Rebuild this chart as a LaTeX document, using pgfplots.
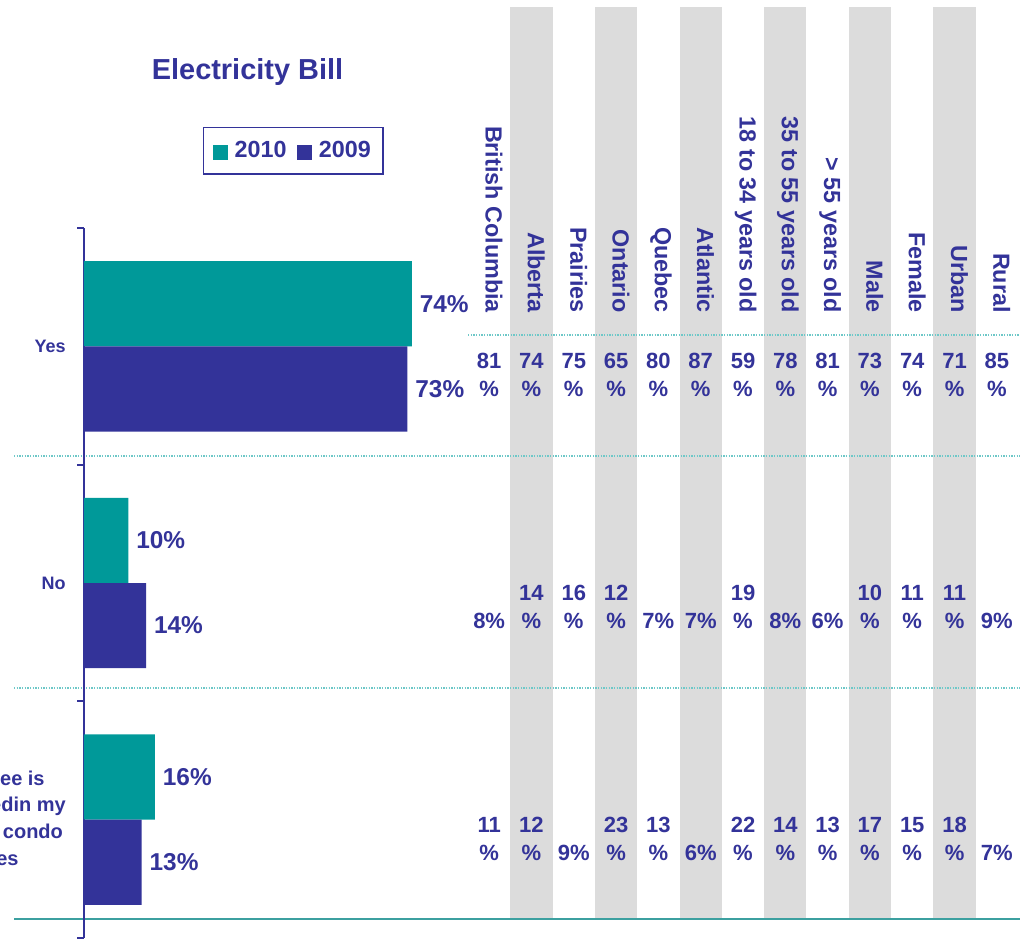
\documentclass[border=0pt]{standalone}
\usepackage{pgfplots}
\pgfplotsset{compat=1.18}
\usepackage{pgfplotstable}
\usepackage{fontspec}
\setmainfont{Liberation Sans}
\definecolor{navy}{RGB}{51,51,153}
\definecolor{tealc}{RGB}{0,153,153}
\definecolor{stripe}{RGB}{220,220,220}
\definecolor{sepc}{RGB}{110,200,200}
\definecolor{linec}{RGB}{60,160,160}
\pgfplotsset{/pgf/number format/assume math mode=true}
\tikzset{hdr/.style={rotate=-90, anchor=east, text=navy, inner sep=0pt, text height=0.73em, text depth=0.21em, font=\fontsize{17.5}{20}\selectfont\bfseries}}

\pgfplotstableread{
col yes no fee
0 81 8 11
1 74 14 12
2 75 16 9
3 65 12 23
4 80 7 13
5 87 7 6
6 59 19 22
7 78 8 14
8 81 6 13
9 73 10 17
10 74 11 15
11 71 11 18
12 85 9 7
}\regtable

\begin{document}
\begin{tikzpicture}[x=0.75pt,y=0.75pt]
\useasboundingbox (0,0) rectangle (1020,940);
\clip (0,0) rectangle (1020,940);
% ---------------- table axis ----------------
\begin{axis}[at={(351pt,0pt)}, anchor=south west, width=412.5pt, height=705pt, scale only axis,
  xmin=-0.5, xmax=12.5, ymin=0, ymax=940, hide axis, clip=false,
  point meta=explicit,
  nodes near coords={\pgfmathprintnumber{\pgfplotspointmeta}\hspace{0pt}\%},
  every node near coord/.append style={text width=30pt, align=center, inner sep=0pt, anchor=south, text=navy, font=\fontsize{16.5}{21}\selectfont\bfseries},
]
\fill[stripe] (axis cs:0.5,21) rectangle (axis cs:1.5,933);
\fill[stripe] (axis cs:2.5,21) rectangle (axis cs:3.5,933);
\fill[stripe] (axis cs:4.5,21) rectangle (axis cs:5.5,933);
\fill[stripe] (axis cs:6.5,21) rectangle (axis cs:7.5,933);
\fill[stripe] (axis cs:8.5,21) rectangle (axis cs:9.5,933);
\fill[stripe] (axis cs:10.5,21) rectangle (axis cs:11.5,933);
\draw[sepc, line width=0.9pt, dash pattern=on 1pt off 1pt] (axis cs:-11.23,484) -- (axis cs:12.55,484);
\draw[sepc, line width=0.9pt, dash pattern=on 1pt off 1pt] (axis cs:-11.23,252) -- (axis cs:12.55,252);
\draw[sepc, line width=0.9pt, dash pattern=on 1pt off 1pt] (axis cs:-0.5,605) -- (axis cs:12.55,605);
\draw[linec, line width=1.5pt] (axis cs:-11.23,21) -- (axis cs:12.55,21);
\addplot[draw=none, mark=none] table[x=col, y expr=543, meta=yes] {\regtable};
\addplot[draw=none, mark=none] table[x=col, y expr=311, meta=no] {\regtable};
\addplot[draw=none, mark=none] table[x=col, y expr=79, meta=fee] {\regtable};
\node[hdr] at (axis cs:0,627) {British Columbia};
\node[hdr] at (axis cs:1,627) {Alberta};
\node[hdr] at (axis cs:2,627) {Prairies};
\node[hdr] at (axis cs:3,627) {Ontario};
\node[hdr] at (axis cs:4,627) {Quebec};
\node[hdr] at (axis cs:5,627) {Atlantic};
\node[hdr] at (axis cs:6,627) {18 to 34 years old};
\node[hdr] at (axis cs:7,627) {35 to 55 years old};
\node[hdr] at (axis cs:8,627) {> 55 years old};
\node[hdr] at (axis cs:9,627) {Male};
\node[hdr] at (axis cs:10,627) {Female};
\node[hdr] at (axis cs:11,627) {Urban};
\node[hdr] at (axis cs:12,627) {Rural};
\end{axis}
% ---------------- bar axis ----------------
\begin{axis}[at={(63pt,1.5pt)}, anchor=south west, width=702pt, height=532.5pt, scale only axis,
  xbar, xmin=0, xmax=211.3, ymin=-0.5, ymax=2.5,
  hide x axis, axis y line*=left,
  y axis line style={navy, line width=2pt, -},
  ytick={0,1,2},
  yticklabels={{\fontsize{15}{20}\selectfont\begin{tabular}{@{}c@{}}The fee is\\includedin my\\rent or condo\\fees\end{tabular}},No,Yes},
  major tick length=0pt,
  every major tick/.append style={draw=none},
  minor ytick={-0.5,0.5,1.5,2.5}, minor tick length=5.25pt,
  tick align=outside,
  every minor tick/.append style={navy, line width=1.5pt},
  yticklabel style={text=navy, font=\fontsize{13.5}{20}\selectfont\bfseries, align=center, inner sep=0pt, xshift=-13.5pt},
  bar width=0.36, clip=false,
  point meta=x,
  nodes near coords={\pgfmathprintnumber{\pgfplotspointmeta}\%},
  nodes near coords align=horizontal,
  every node near coord/.append style={text=navy, font=\fontsize{18.3}{20}\selectfont\bfseries, xshift=2.5pt},
  legend style={at={(0.1271,1.1423)}, anchor=north west, draw=navy, line width=1.1pt, text=navy,
    font=\fontsize{17.5}{20}\selectfont\bfseries, inner xsep=7pt, inner ysep=8.5pt,
    /tikz/every odd column/.append style={column sep=3pt},
    /tikz/every even column/.append style={column sep=6pt}},
  legend columns=2,
  legend image code/.code={\fill[#1] (0pt,-6.75pt) rectangle (11.25pt,4.5pt);},
]
\addplot[fill=tealc, draw=none, bar shift=0.18] coordinates {(74,2) (10,1) (16,0)};
\addplot[fill=navy, draw=none, bar shift=-0.18] coordinates {(73,2) (14,1) (13,0)};
\legend{2010,2009}
\end{axis}
\node[anchor=base, text=navy, font=\fontsize{21.7}{26}\selectfont\bfseries] at (247.5,860) {Electricity Bill};
\end{tikzpicture}
\end{document}
